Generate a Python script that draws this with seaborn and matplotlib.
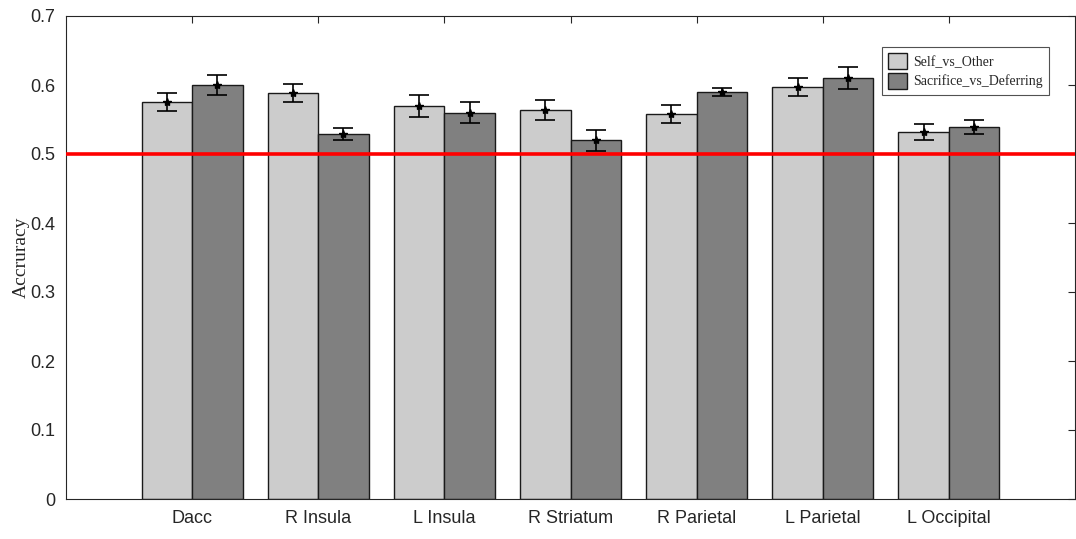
import numpy as np
import pandas as pd
import matplotlib
matplotlib.use("Agg")
import matplotlib.pyplot as plt
import seaborn as sns

# Data
regions = ["Dacc", "R Insula", "L Insula", "R Striatum",
           "R Parietal", "L Parietal", "L Occipital"]
series = ["Self_vs_Other", "Sacrifice_vs_Deferring"]
self_acc = [0.575, 0.588, 0.570, 0.564, 0.558, 0.597, 0.532]
self_err = [0.013, 0.013, 0.016, 0.014, 0.013, 0.013, 0.012]
sacr_acc = [0.600, 0.529, 0.560, 0.520, 0.590, 0.610, 0.539]
sacr_err = [0.015, 0.009, 0.015, 0.015, 0.006, 0.016, 0.010]
chance = 0.5
yticks = [0, 0.1, 0.2, 0.3, 0.4, 0.5, 0.6, 0.7]

df = pd.DataFrame({
    "region": regions * 2,
    "group": [series[0]] * len(regions) + [series[1]] * len(regions),
    "acc": self_acc + sacr_acc,
    "err": self_err + sacr_err,
})

sns.set_style("white")
plt.rcParams["font.family"] = ["Liberation Sans Narrow", "Liberation Sans", "DejaVu Sans"]

fig = plt.figure(figsize=(10.76, 5.39), dpi=100)
ax = fig.add_axes([66 / 1076, 40 / 539, 1009 / 1076, 483 / 539])

sns.barplot(
    data=df, x="region", y="acc", hue="group",
    hue_order=series, order=regions,
    palette=["#cccccc", "#808080"],
    edgecolor="#1a1a1a", linewidth=1.0,
    errorbar=None, width=0.8, saturation=1, ax=ax,
)

# error bars + star markers on top of each bar
for container, name in zip(ax.containers, series):
    sub = df[df["group"] == name].set_index("region").loc[regions]
    xs = [p.get_x() + p.get_width() / 2 for p in container.patches]
    ax.errorbar(xs, sub["acc"], yerr=sub["err"], fmt="none",
                ecolor="black", elinewidth=1.2, capsize=7.5,
                capthick=1.2, zorder=5)
    ax.plot(xs, sub["acc"], linestyle="none", marker="*",
            color="black", markersize=6, zorder=6)

ax.axhline(chance, color="#ff0000", linewidth=2.6, zorder=4)

ax.set_xlim(-1, 7)
ax.set_ylim(0, 0.7)
ax.set_yticks(yticks)
ax.set_yticklabels([f"{t:g}" for t in yticks])
ax.set_xlabel("")
ax.set_ylabel("Accruracy", family="Liberation Serif", fontsize=14, labelpad=0)

ax.tick_params(axis="both", direction="in", length=5, width=0.8,
               colors="#262626", labelsize=13, top=True, right=True,
               labelcolor="#262626", pad=8)
for sp in ax.spines.values():
    sp.set_visible(True)
    sp.set_color("#262626")
    sp.set_linewidth(0.8)

leg = ax.legend(loc="upper right", bbox_to_anchor=(0.974, 0.936),
                prop={"family": "Liberation Serif", "size": 10},
                frameon=True, fancybox=False, edgecolor="#262626",
                handlelength=1.4, handleheight=1.4, borderpad=0.45,
                labelspacing=0.25, handletextpad=0.4, borderaxespad=0)
leg.get_frame().set_linewidth(0.8)

fig.savefig("out.png", dpi=100)
